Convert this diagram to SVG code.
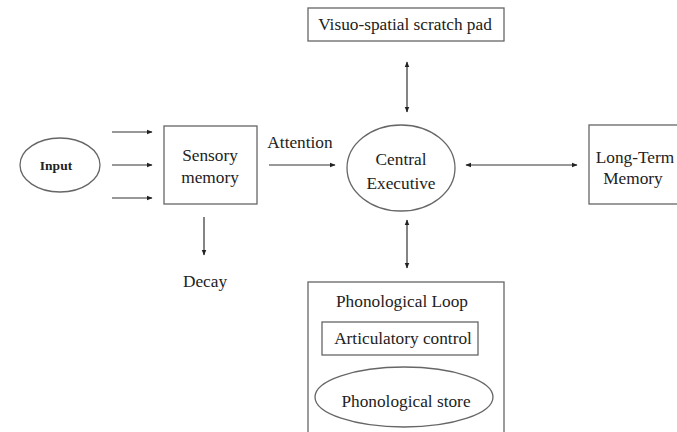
<svg xmlns="http://www.w3.org/2000/svg" width="677" height="432" viewBox="0 0 677 432">
<defs>
<marker id="ah" viewBox="0 0 10 10" refX="9" refY="5" markerWidth="6" markerHeight="6" orient="auto-start-reverse" markerUnits="userSpaceOnUse">
<path d="M0,1 L10,5 L0,9 Z" fill="#222"/>
</marker>
<style>
.box{fill:#fff;stroke:#666;stroke-width:1.3}
.t{font-family:"Liberation Serif","Times New Roman",serif;font-size:17.3px;fill:#222;text-anchor:middle}
.c{stroke:#333;stroke-width:1.2;fill:none}
</style>
</defs>
<rect width="677" height="432" fill="#fff"/>
<g id="input">
<ellipse class="box" cx="60" cy="165" rx="40" ry="27"/>
<text class="t" x="56" y="170" style="font-size:13.5px;font-weight:bold">Input</text>
</g>
<g id="sensory">
<rect class="box" x="164" y="126" width="93" height="78"/>
<text class="t" x="210" y="161">Sensory</text>
<text class="t" x="210" y="183">memory</text>
</g>
<g id="decay">
<text class="t" x="205" y="287">Decay</text>
</g>
<g id="attention">
<text class="t" x="300" y="148">Attention</text>
</g>
<g id="visuo">
<rect class="box" x="308" y="8" width="196" height="33"/>
<text class="t" x="405" y="30">Visuo-spatial scratch pad</text>
</g>
<g id="central">
<ellipse class="box" cx="401" cy="168" rx="54" ry="43"/>
<text class="t" x="401" y="165">Central</text>
<text class="t" x="401" y="189">Executive</text>
</g>
<g id="ltm">
<rect class="box" x="589" y="125" width="100" height="79"/>
<text class="t" x="635" y="163">Long-Term</text>
<text class="t" x="633" y="184">Memory</text>
</g>
<g id="phono">
<rect class="box" x="308" y="282" width="196" height="160"/>
<text class="t" x="402" y="307">Phonological Loop</text>
<rect class="box" x="322" y="322" width="156" height="33"/>
<text class="t" x="403" y="344">Articulatory control</text>
<ellipse class="box" cx="404" cy="397" rx="89" ry="30"/>
<text class="t" x="406" y="407">Phonological store</text>
</g>
<g id="connectors">
<line class="c" x1="112" y1="132" x2="152" y2="132" marker-end="url(#ah)"/>
<line class="c" x1="112" y1="165" x2="152" y2="165" marker-end="url(#ah)"/>
<line class="c" x1="112" y1="198" x2="152" y2="198" marker-end="url(#ah)"/>
<line class="c" x1="269" y1="165" x2="335" y2="165" marker-end="url(#ah)"/>
<line class="c" x1="204" y1="217" x2="204" y2="255" marker-end="url(#ah)"/>
<line class="c" x1="407" y1="62" x2="407" y2="112" marker-start="url(#ah)" marker-end="url(#ah)"/>
<line class="c" x1="466" y1="165" x2="577" y2="165" marker-start="url(#ah)" marker-end="url(#ah)"/>
<line class="c" x1="407" y1="220" x2="407" y2="268" marker-start="url(#ah)" marker-end="url(#ah)"/>
</g>
</svg>
